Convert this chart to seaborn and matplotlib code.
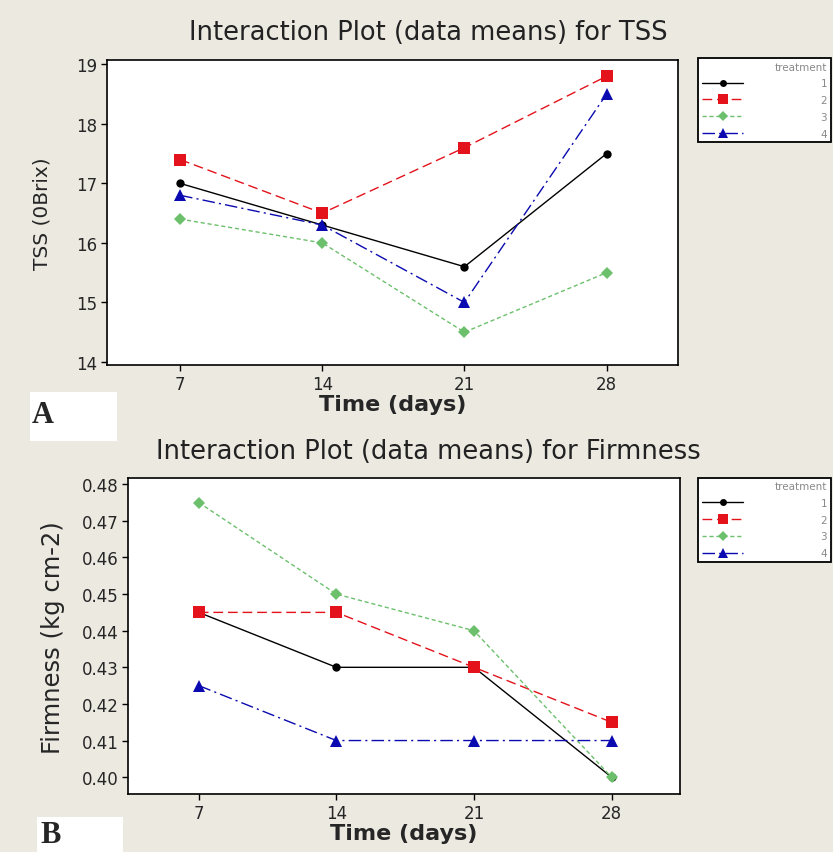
import pandas as pd
import numpy as np
import matplotlib
matplotlib.use("Agg")
import matplotlib.pyplot as plt
import matplotlib.patches as mpatches
import seaborn as sns

# data
days = [7, 14, 21, 28]
treatments = ["1", "2", "3", "4"]

tss_1 = [17.0, 16.3, 15.6, 17.5]
tss_2 = [17.4, 16.5, 17.6, 18.8]
tss_3 = [16.4, 16.0, 14.5, 15.5]
tss_4 = [16.8, 16.3, 15.0, 18.5]

firm_1 = [0.445, 0.430, 0.430, 0.400]
firm_2 = [0.445, 0.445, 0.430, 0.415]
firm_3 = [0.475, 0.450, 0.440, 0.400]
firm_4 = [0.425, 0.410, 0.410, 0.410]

tss_ticks = [14, 15, 16, 17, 18, 19]
firm_ticks = [0.40, 0.41, 0.42, 0.43, 0.44, 0.45, 0.46, 0.47, 0.48]


def long_df(series, name):
    rows = []
    for t, vals in zip(treatments, series):
        for d, v in zip(days, vals):
            rows.append({"Time": d, name: v, "treatment": t})
    return pd.DataFrame(rows)


tss_df = long_df([tss_1, tss_2, tss_3, tss_4], "TSS")
firm_df = long_df([firm_1, firm_2, firm_3, firm_4], "Firmness")

bg = "#ece9e1"
palette = {"1": "black", "2": "#e3121b", "3": "#6cc06c", "4": "#0a0ab0"}
markers = {"1": "o", "2": "s", "3": "D", "4": "^"}
dashes = {"1": "", "2": (7, 3.5), "3": (3, 2), "4": (9, 3, 1.5, 3)}
msizes = {"1": 6, "2": 8, "3": 6, "4": 8}

sns.set_style("white")
plt.rcParams["font.family"] = ["DejaVu Sans"]

fig = plt.figure(figsize=(8.33, 8.53), dpi=100, facecolor=bg)
ax1 = fig.add_axes([0.1285, 0.571, 0.685, 0.358])
ax2 = fig.add_axes([0.1537, 0.068, 0.663, 0.370])


def draw(ax, df, col, ylim, yticks, fmt, title, title_y, ylabel, ylab_size, ylab_pad, leg_top):
    sns.lineplot(data=df, x="Time", y=col, hue="treatment", style="treatment",
                 palette=palette, markers=markers, dashes=dashes,
                 linewidth=1.0, markeredgewidth=0, ax=ax, legend="full")
    for line, t in zip(ax.lines, treatments):
        line.set_markersize(msizes[t])
    leg = ax.get_legend()
    handles = leg.legend_handles
    labels = [tx.get_text() for tx in leg.get_texts()]
    leg.remove()
    for h, t in zip(handles, labels):
        if t in msizes:
            h.set_markersize(msizes[t] - 1)
    new = ax.legend(handles, labels, title="treatment", loc="upper left",
                    bbox_to_anchor=(0.838, leg_top), bbox_transform=fig.transFigure,
                    borderaxespad=0, fancybox=False, framealpha=1, edgecolor="black",
                    fontsize=7.5, title_fontsize=7.5, handlelength=4.0, handletextpad=7.4,
                    labelspacing=0.65, borderpad=0.35, alignment="right",
                    labelcolor="#8a8a8a")
    new.get_frame().set_linewidth(1.3)
    new.get_title().set_color("#8a8a8a")

    ax.set_xlim(3.4, 31.5)
    ax.set_ylim(*ylim)
    ax.set_xticks(days)
    ax.set_xticklabels([str(d) for d in days], fontsize=12)
    ax.set_yticks(yticks)
    ax.set_yticklabels([fmt.format(v) for v in yticks], fontsize=12)
    ax.tick_params(axis="both", which="both", direction="out", length=4,
                   width=1, color="black", left=True, bottom=True, pad=3)
    for s in ax.spines.values():
        s.set_color("black")
        s.set_linewidth(1.2)
    ax.set_facecolor("white")
    ax.set_xlabel("Time (days)", fontsize=16, fontweight="bold", labelpad=1)
    ax.set_ylabel(ylabel, fontsize=ylab_size, labelpad=ylab_pad)
    # titles sit centred on the page, not on the axes
    fig.text(428 / 833, title_y, title, fontsize=18.5, ha="center", va="center",
             color="#222222")


draw(ax1, tss_df, "TSS", (13.95, 19.08), tss_ticks, "{:.0f}",
     "Interaction Plot (data means) for TSS", 1 - 33 / 853,
     "TSS (0Brix)", 14.5, 18, 0.931)
draw(ax2, firm_df, "Firmness", (0.3954, 0.4816), firm_ticks, "{:.2f}",
     "Interaction Plot (data means) for Firmness", 1 - 452 / 853,
     "Firmness (kg cm-2)", 17.5, 12, 0.439)

# panel letters on small white boxes
fig.patches.append(mpatches.Rectangle((30 / 833, 1 - 442 / 853), 87 / 833, 49 / 853,
                                      transform=fig.transFigure, facecolor="white",
                                      edgecolor="none"))
fig.patches.append(mpatches.Rectangle((37 / 833, 0.0), 86 / 833, 35 / 853,
                                      transform=fig.transFigure, facecolor="white",
                                      edgecolor="none"))
fig.text(32 / 833, 1 - 416 / 853, "A", fontsize=22, fontweight="bold",
         family="Liberation Serif", va="center", ha="left")
fig.text(40 / 833, 1 - 836 / 853, "B", fontsize=22, fontweight="bold",
         family="Liberation Serif", va="center", ha="left")

fig.savefig("out.png", dpi=100, facecolor=bg)
